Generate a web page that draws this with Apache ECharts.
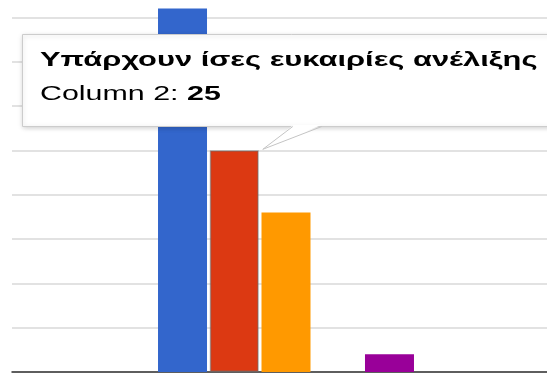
<!DOCTYPE html>
<html>
<head>
<meta charset="utf-8">
<script src="https://cdn.jsdelivr.net/npm/echarts@6/dist/echarts.min.js"></script>
<style>
  html, body { margin: 0; padding: 0; background: #fff; }
  #frame { position: relative; width: 547px; height: 374px; overflow: hidden; }
  #chart { position: absolute; left: 0; top: -27px; width: 560px; height: 401px; }
</style>
</head>
<body>
<div id="frame"><div id="chart"></div></div>
<script>
// ---- data ----
const categories = ['Υπάρχουν ίσες ευκαιρίες ανέλιξης'];
const seriesNames = ['Column 1', 'Column 2', 'Column 3', 'Column 4', 'Column 5'];
const column1 = [41];
const column2 = [25];
const column3 = [18];
const column4 = [0];
const column5 = [2];
const seriesColors = ['#3366cc', '#dc3912', '#ff9900', '#109618', '#990099'];
const yMin = 0, yMax = 45, yStep = 5;
const hoveredSeries = 1;   // tooltip shown for Column 2
const hoveredCategory = 0;

const allValues = [column1, column2, column3, column4, column5];
const FONT = '"Liberation Sans", Arial, sans-serif';
const OFF_Y = 27; // chart canvas is shifted up by this much inside the frame

const chart = echarts.init(document.getElementById('chart'), null, { renderer: 'canvas' });

const series = allValues.map((vals, i) => ({
  name: seriesNames[i],
  type: 'bar',
  data: vals,
  barWidth: 49,
  barGap: '5.6%',
  itemStyle: i === hoveredSeries
    ? { color: seriesColors[i], borderColor: 'rgba(110,110,110,0.55)', borderWidth: 1.5 }
    : { color: seriesColors[i] },
  emphasis: { disabled: true },
  animation: false
}));

chart.setOption({
  animation: false,
  grid: { left: 12, right: 0, top: 0, bottom: 2, containLabel: false },
  xAxis: {
    type: 'category',
    data: categories,
    axisLine: { show: true, lineStyle: { color: '#333333', width: 1.5 } },
    axisTick: { show: false },
    axisLabel: { show: false },
    splitLine: { show: false }
  },
  yAxis: {
    type: 'value',
    min: yMin, max: yMax, interval: yStep,
    axisLine: { show: false },
    axisTick: { show: false },
    axisLabel: { show: false },
    splitLine: { show: true, lineStyle: { color: '#d9d9d9', width: 1.5 } }
  },
  series: series
});

// ---- tooltip drawn from the data ----
const hoverValue = allValues[hoveredSeries][hoveredCategory];
const barLayout = chart.getModel().getSeriesByIndex(hoveredSeries).getData().getItemLayout(hoveredCategory);
const barRight = barLayout.x + barLayout.width;
const barTop = Math.min(barLayout.y, barLayout.y + barLayout.height);
const tip = [barRight + 4, barTop - 1];
const boxLeft = 22, boxTop = 34 + OFF_Y, boxBottom = 126 + OFF_Y, boxRight = 580;
const tailL = [tip[0] + 30, boxBottom];
const tailR = [tip[0] + 59, boxBottom];

chart.setOption({
  graphic: [
    {
      type: 'rect',
      shape: { x: boxLeft + 0.5, y: boxTop + 0.5, width: boxRight - boxLeft, height: boxBottom - boxTop },
      style: { fill: '#ffffff', stroke: '#cccccc', lineWidth: 1, shadowBlur: 5, shadowColor: 'rgba(0,0,0,0.2)', shadowOffsetY: 1 },
      z: 100
    },
    {
      type: 'polygon',
      shape: { points: [[tailL[0] + 0.5, boxBottom - 1], [tailR[0] - 0.5, boxBottom - 1], tip] },
      style: { fill: '#ffffff' },
      z: 101
    },
    {
      type: 'polyline',
      shape: { points: [[tailL[0], boxBottom + 0.5], tip, [tailR[0], boxBottom + 0.5]] },
      style: { stroke: '#c4c4c4', lineWidth: 1, fill: null },
      z: 102
    },
    {
      type: 'text',
      x: 40, y: 71 + OFF_Y,
      scaleX: 1.47,
      style: {
        text: categories[hoveredCategory],
        font: 'bold 21px ' + FONT,
        fill: '#000000',
        verticalAlign: 'bottom'
      },
      z: 103
    },
    {
      type: 'text',
      x: 40, y: 104 + OFF_Y,
      scaleX: 1.52,
      style: {
        text: '{n|' + seriesNames[hoveredSeries] + ': }{b|' + hoverValue + '}',
        rich: {
          n: { font: '20px ' + FONT, fill: '#000000' },
          b: { font: 'bold 20px ' + FONT, fill: '#000000' }
        },
        verticalAlign: 'bottom'
      },
      z: 103
    }
  ]
});
</script>
</body>
</html>
